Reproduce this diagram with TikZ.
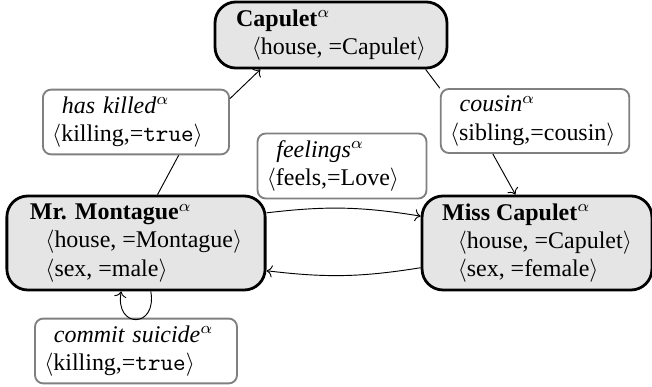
\documentclass[tikz,border=0pt]{standalone}
\usepackage{fontspec}
\setmainfont{Liberation Serif}
\usepackage{tikz}
\usetikzlibrary{arrows.meta,positioning}

\tikzset{
  ent/.style={draw, very thick, fill=gray!20, rounded corners=9pt, align=left, inner sep=3pt},
  rel/.style={draw=gray, thick, fill=white, rounded corners=3.5pt, align=left, inner xsep=4pt, inner ysep=3pt}
}

\begin{document}
\begin{tikzpicture}[x=0.0151cm,y=-0.0151cm,font=\fontsize{10.3}{12.2}\selectfont]
  \useasboundingbox (0,0) rectangle (652,387);
  % entities
  \node[ent, minimum width=99.7pt, minimum height=28.4pt] (cap) at (331,35)
    {\textbf{Capulet}$^\alpha$\\\hspace*{0.65em}$\langle$house, =Capulet$\rangle$};
  \node[ent, minimum width=111pt, minimum height=40.4pt] (mont) at (136,243)
    {\textbf{Mr. Montague}$^\alpha$\\\hspace*{0.65em}$\langle$house, =Montague$\rangle$\\\hspace*{0.65em}$\langle$sex, =male$\rangle$};
  \node[ent, minimum width=98.8pt, minimum height=40.4pt] (miss) at (537,243)
    {\textbf{Miss Capulet}$^\alpha$\\\hspace*{0.65em}$\langle$house, =Capulet$\rangle$\\\hspace*{0.65em}$\langle$sex, =female$\rangle$};
  % relations
  \node[rel, text width=72pt, minimum height=26.6pt] (kill) at (136,122)
    {\hspace*{0.4em}\textit{has killed}$^\alpha$\\$\langle$killing,=\texttt{true}$\rangle$};
  \node[rel, text width=73pt, minimum height=26.2pt] (cous) at (535,121)
    {\hspace*{0.4em}\textit{cousin}$^\alpha$\\$\langle$sibling,=cousin$\rangle$};
  \node[rel, text width=64.6pt, minimum height=26.2pt] (feel) at (342,166)
    {\hspace*{0.4em}\textit{feelings}$^\alpha$\\$\langle$feels,=Love$\rangle$};
  \node[rel, text width=78.8pt, minimum height=27pt] (suic) at (136,351)
    {\hspace*{0.4em}\textit{commit suicide}$^\alpha$\\$\langle$killing,=\texttt{true}$\rangle$};
  % connectors
  \draw (mont.66) -- (kill.-38);
  \draw[->] (kill.14) -- (cap.206);
  \draw (cap.-20) -- (cous.161);
  \draw[->] (cous.218) -- (miss.114);
  \draw[->] (mont.13) to[bend left=8] (miss.167);
  \draw[->] (miss.192) to[bend left=8] (mont.-12);
  \draw[->] (mont.-73) to[out=-80, in=-100, looseness=3.3] (mont.-107);
\end{tikzpicture}
\end{document}
